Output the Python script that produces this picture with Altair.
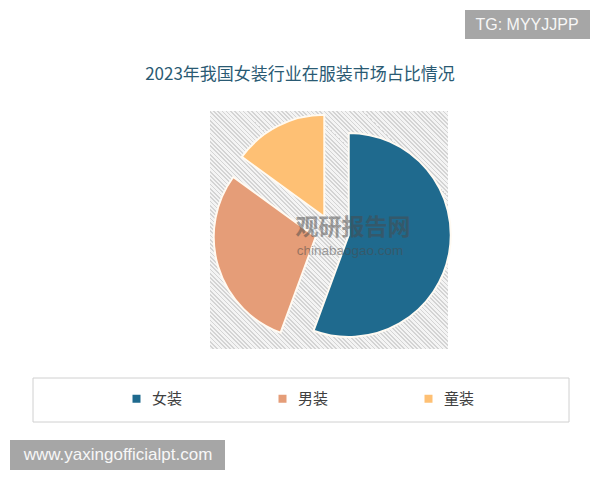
import altair as alt
import pandas as pd

# ---- data ----
categories = ["女装", "男装", "童装"]
shares = [55.6, 29.4, 15.0]
colors = ["#1f6a8e", "#e59d78", "#fec074"]
title_text = "2023年我国女装行业在服装市场占比情况"

W, H = 584, 464
CX, CY = 324, 224
R = 102
EXPLODE = 17
CJK = "Noto Sans CJK SC"

one = pd.DataFrame({"a": [0]})

# hatched background square via a striped linear gradient
N = 112
stops = []
for k in range(N):
    stops.append(alt.GradientStop(offset=k / N, color="#f4f4f4"))
    stops.append(alt.GradientStop(offset=(k + 0.6) / N, color="#f4f4f4"))
    stops.append(alt.GradientStop(offset=(k + 0.6) / N, color="#d4d4d4"))
    stops.append(alt.GradientStop(offset=(k + 1) / N, color="#d4d4d4"))
hatch = alt.Gradient(gradient="linear", stops=stops, x1=0, y1=1, x2=1, y2=0)

bg = alt.Chart(one).mark_rect(fill=hatch).encode(
    x=alt.value(202), x2=alt.value(440), y=alt.value(103), y2=alt.value(341)
)

legend_box = alt.Chart(one).mark_rect(fill="white", stroke="#d0d0d0", strokeWidth=1).encode(
    x=alt.value(25), x2=alt.value(561), y=alt.value(370), y2=alt.value(414)
)

pie_df = pd.DataFrame({"cat": categories, "share": shares, "order": list(range(len(categories)))})

pie = (
    alt.Chart(pie_df)
    .transform_joinaggregate(total="sum(share)")
    .transform_window(cum="sum(share)", sort=[alt.SortField("order")])
    .transform_calculate(
        t1="2*PI*datum.cum/datum.total",
        t0="2*PI*(datum.cum-datum.share)/datum.total",
    )
    .transform_calculate(mid="(datum.t0+datum.t1)/2")
    .transform_calculate(
        cx=f"{CX}+{EXPLODE}*sin(datum.mid)",
        cy=f"{CY}-{EXPLODE}*cos(datum.mid)",
    )
    .mark_arc(radius=R, stroke="#fffaf2", strokeWidth=2)
    .encode(
        theta=alt.Theta("t0:Q", scale=None),
        theta2="t1:Q",
        x=alt.X("cx:Q", scale=None),
        y=alt.Y("cy:Q", scale=None),
        color=alt.Color(
            "cat:N",
            scale=alt.Scale(domain=categories, range=colors),
            sort=categories,
            legend=alt.Legend(
                orient="none",
                legendX=121,
                legendY=383,
                direction="horizontal",
                title=None,
                symbolType="square",
                symbolSize=64,
                symbolStrokeWidth=0,
                labelFont=CJK,
                labelFontSize=15,
                labelColor="#404040",
                labelOffset=8,
                columnPadding=92,
                padding=0,
            ),
        ),
        order=alt.Order("order:Q"),
    )
)

title = alt.Chart(one).mark_text(
    text=title_text, font=CJK, fontSize=17, color="#2a5a73", baseline="middle", align="center"
).encode(x=alt.value(292), y=alt.value(67))

wm1 = alt.Chart(one).mark_text(
    text="观研报告网", font=CJK, fontSize=23, fontWeight="bold", color="#4a4a4a", opacity=0.5,
    baseline="middle", align="center"
).encode(x=alt.value(345), y=alt.value(220))
wm2 = alt.Chart(one).mark_text(
    text="chinabaogao.com", font="Liberation Sans", fontSize=13.5, color="#4a4a4a", opacity=0.5,
    baseline="middle", align="center"
).encode(x=alt.value(342), y=alt.value(243))

tg_box = alt.Chart(one).mark_rect(fill="#a6a6a6").encode(
    x=alt.value(457), x2=alt.value(582), y=alt.value(2), y2=alt.value(31)
)
tg_text = alt.Chart(one).mark_text(
    text="TG: MYYJJPP", font="Liberation Sans", fontSize=16, color="#f7f7f7",
    baseline="middle", align="center"
).encode(x=alt.value(519), y=alt.value(17))

www_box = alt.Chart(one).mark_rect(fill="#a6a6a6").encode(
    x=alt.value(2), x2=alt.value(217), y=alt.value(432), y2=alt.value(462)
)
www_text = alt.Chart(one).mark_text(
    text="www.yaxingofficialpt.com", font="Liberation Sans", fontSize=17, color="#f7f7f7",
    baseline="middle", align="center"
).encode(x=alt.value(110), y=alt.value(447))

chart = (
    alt.layer(bg, legend_box, pie, wm1, wm2, title, tg_box, tg_text, www_box, www_text)
    .properties(width=W, height=H, autosize=alt.AutoSizeParams(type="none"), padding=0, background="white")
    .configure_view(stroke=None)
)

chart.save("out.html", embed_options={"renderer": "svg", "actions": False})
